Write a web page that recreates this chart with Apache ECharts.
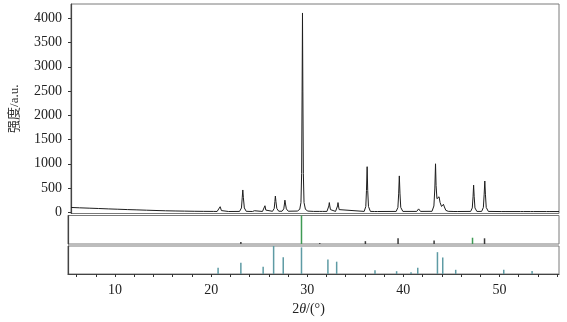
<!DOCTYPE html>
<html>
<head>
<meta charset="utf-8">
<script src="https://cdn.jsdelivr.net/npm/echarts@6/dist/echarts.min.js"></script>
<style>html,body{margin:0;padding:0;background:#fff}#c{width:567px;height:322px}</style>
</head>
<body>
<div id="c"></div>
<script>
// Measured XRD profile: [2θ, intensity]
const profile = [
  [5.1,100],[6,92],[7,85],[8,78],[9,70],[10,63],[11,56],[12,50],[13,43],[14,37],[15,31],[16,27],[17,24],[18,21],[19,19],[20,18],
  [20.4,17],[20.6,35],[20.72,115],[20.85,35],[21.05,17],
  [21.6,16],[21.7,28],[21.8,16],
  [22.75,18],[22.95,90],[23.03,300],[23.09,460],[23.15,300],[23.25,90],[23.45,20],
  [24.1,16],[24.31,32],[24.5,16],
  [25.15,17],[25.32,45],[25.41,135],[25.5,45],[25.7,17],
  [26.2,20],[26.38,80],[26.45,220],[26.5,335],[26.56,220],[26.65,80],[26.85,22],
  [27.2,22],[27.38,70],[27.45,170],[27.5,250],[27.56,170],[27.65,70],[27.85,22],
  [28.8,25],[29.05,60],[29.18,200],[29.25,800],[29.3,2500],[29.34,4110],[29.38,2500],[29.43,800],[29.5,200],[29.65,60],[29.9,25],
  [30.5,18],[31.1,18],[31.29,32],[31.45,18],
  [31.9,18],[32.05,55],[32.1,130],[32.15,200],[32.2,130],[32.27,55],[32.45,18],
  [32.8,18],[32.96,55],[33.01,130],[33.06,200],[33.11,130],[33.18,55],[33.35,18],
  [35.8,18],[35.97,120],[36.04,450],[36.11,940],[36.17,450],[36.25,120],[36.45,18],
  [36.9,16],[37.05,42],[37.2,16],
  [39.15,18],[39.33,100],[39.41,380],[39.48,750],[39.55,380],[39.63,100],[39.85,18],
  [41.3,18],[41.5,70],[41.7,18],
  [42.9,20],[43.1,130],[43.2,500],[43.27,1000],[43.33,550],[43.42,280],[43.55,260],[43.64,320],[43.75,200],[43.9,120],[44.0,140],[44.1,165],[44.2,110],[44.35,40],[44.6,20],
  [45.2,16],[45.38,32],[45.55,16],
  [46.95,18],[47.12,90],[47.2,320],[47.26,560],[47.32,320],[47.4,90],[47.6,18],
  [48.1,18],[48.28,100],[48.36,360],[48.43,645],[48.5,360],[48.58,100],[48.8,18],
  [50.15,15],[50.35,32],[50.55,15],
  [52.15,15],[52.33,24],[52.5,15],
  [53.2,15],[53.37,24],[53.55,15],
  [54.9,15],[55.07,22],[55.25,15],[56.2,15]
];

// Reference phase 1 sticks (middle panel)
const refAAngles  = [23.09, 29.4, 31.3, 36.05, 39.45, 43.2, 47.2, 48.45];
const refAHeights = [7, 100, 3, 10, 20, 12, 22, 20];

// Reference phase 2 sticks (bottom panel)
const refBAngles  = [20.72, 23.09, 25.41, 26.5, 27.5, 29.4, 32.15, 33.06, 37.05, 39.3, 40.8, 41.5, 43.55, 44.1, 45.45, 50.45, 53.4];
const refBHeights = [22, 40, 26, 100, 60, 95, 52, 44, 13, 10, 6, 22, 78, 59, 15, 15, 11];

// Tick values
const yTickValues = [0,500,1000,1500,2000,2500,3000,3500,4000];
const xTickValues = [6,8,10,12,14,16,18,20,22,24,26,28,30,32,34,36,38,40,42,44,46,48,50,52,54,56];
const xLabelValues = [10,20,30,40,50];

const X_MIN = 5.1, X_MAX = 56.2;
const serif = '"Liberation Serif", "Times New Roman", serif';

const pairs = (a, b) => a.map((v, i) => [v, b[i]]);
const plain = (v) => String(v);

const chart = echarts.init(document.getElementById('c'), null, {renderer: 'canvas'});
const frame = {show: true, borderColor: '#7a7a7a', borderWidth: 1, backgroundColor: 'transparent'};
const hiddenX = (gi) => ({
  type: 'value', gridIndex: gi, min: X_MIN, max: X_MAX,
  axisLine: {show: false}, axisTick: {show: false}, axisLabel: {show: false}, splitLine: {show: false}
});
const plainY = (gi) => ({
  type: 'value', gridIndex: gi, min: 0, max: 100,
  axisLine: {show: true, lineStyle: {color: '#444', width: 1.2}},
  axisTick: {show: false}, axisLabel: {show: false}, splitLine: {show: false}
});

chart.setOption({
  animation: false,
  backgroundColor: '#fff',
  grid: [
    Object.assign({left: 68, right: 8, top: 4, height: 209.5}, frame),
    Object.assign({left: 68, right: 8, top: 215.5, height: 28.5}, frame),
    Object.assign({left: 68, right: 8, top: 246, height: 28}, frame)
  ],
  xAxis: [
    hiddenX(0),
    hiddenX(1),
    {
      type: 'value', gridIndex: 2, min: X_MIN, max: X_MAX,
      axisLine: {show: true, lineStyle: {color: '#444', width: 1.2}},
      axisTick: {show: true, length: 3, customValues: xTickValues, lineStyle: {color: '#333'}},
      axisLabel: {show: true, customValues: xLabelValues, formatter: plain, fontFamily: serif, fontSize: 14, color: '#222', margin: 9},
      splitLine: {show: false},
      name: '2{i|θ}/(°)', nameLocation: 'middle', nameGap: 28,
      nameTextStyle: {fontFamily: serif, fontSize: 14, color: '#222', padding: [0, 10, 0, 0],
        rich: {i: {fontFamily: serif, fontStyle: 'italic', fontSize: 14, color: '#222'}}}
    }
  ],
  yAxis: [
    {
      type: 'value', gridIndex: 0, min: -25, max: 4295,
      axisLine: {show: true, lineStyle: {color: '#444', width: 1.2}},
      axisTick: {show: true, length: 3, customValues: yTickValues, lineStyle: {color: '#333'}},
      axisLabel: {show: true, customValues: yTickValues, formatter: plain, fontFamily: serif, fontSize: 14, color: '#222', margin: 9},
      splitLine: {show: false},
      name: '强度/a.u.', nameLocation: 'middle', nameGap: 50, nameRotate: 90,
      nameTextStyle: {fontFamily: '"Liberation Serif", "Noto Sans CJK SC", serif', fontSize: 13, color: '#333'}
    },
    plainY(1),
    plainY(2)
  ],
  series: [
    {
      type: 'line', xAxisIndex: 0, yAxisIndex: 0, data: profile,
      symbol: 'none', smooth: false,
      lineStyle: {color: '#1e1e1e', width: 1}
    },
    {
      type: 'bar', xAxisIndex: 1, yAxisIndex: 1, data: pairs(refAAngles, refAHeights),
      barWidth: 1.5,
      itemStyle: {color: (p) => p.value[1] > 20 ? '#3f9a55' : '#3a3a3a'}
    },
    {
      type: 'bar', xAxisIndex: 2, yAxisIndex: 2, data: pairs(refBAngles, refBHeights),
      barWidth: 1.5,
      itemStyle: {color: '#5e9ba4'}
    }
  ]
});
</script>
</body>
</html>
